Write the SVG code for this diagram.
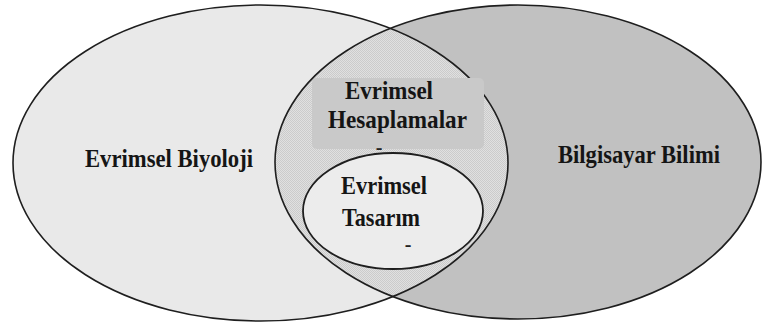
<svg xmlns="http://www.w3.org/2000/svg" width="763" height="329" viewBox="0 0 763 329">
<style>
.outline{stroke:#1e1e1e;stroke-width:1.6;fill:none}
text{font-family:'Liberation Serif','Times New Roman',serif;font-weight:bold}
.lbl{font-size:26px;fill:#151515;text-anchor:middle}
.dash{font-size:20px;fill:#222;text-anchor:middle}
</style>
<defs>
<pattern id="dots" width="2" height="2" patternUnits="userSpaceOnUse">
<rect width="2" height="2" fill="#e0e0e0"/>
<rect width="1" height="1" fill="#cbcbcb"/>
<rect x="1" y="1" width="1" height="1" fill="#cbcbcb"/>
</pattern>
<clipPath id="leftClip"><ellipse cx="260.5" cy="163" rx="247.5" ry="158"/></clipPath>
</defs>
<rect width="763" height="329" fill="#ffffff"/>
<g id="evrimsel-biyoloji">
<ellipse cx="260.5" cy="163" rx="247.5" ry="158" fill="#e9e9e9"/>
</g>
<g id="bilgisayar-bilimi">
<ellipse cx="518" cy="162" rx="243" ry="157" fill="#c1c1c1"/>
</g>
<g id="evrimsel-hesaplamalar">
<ellipse cx="518" cy="162" rx="243" ry="157" fill="url(#dots)" clip-path="url(#leftClip)"/>
</g>
<g id="outlines">
<ellipse class="outline" cx="260.5" cy="163" rx="247.5" ry="158"/>
<ellipse class="outline" cx="518" cy="162" rx="243" ry="157"/>
</g>
<g id="hesaplamalar-box">
<rect x="312" y="78" width="172" height="71" rx="5" fill="#c9c9c9"/>
<text class="lbl" x="389" y="99" textLength="88" lengthAdjust="spacingAndGlyphs">Evrimsel</text>
<text class="lbl" x="397.5" y="128" textLength="139" lengthAdjust="spacingAndGlyphs">Hesaplamalar</text>
<text class="dash" x="379" y="154">-</text>
</g>
<g id="evrimsel-tasarim">
<ellipse cx="393" cy="211" rx="90" ry="58" fill="#ececec" stroke="#1e1e1e" stroke-width="1.8"/>
<text class="lbl" x="384" y="194" textLength="86" lengthAdjust="spacingAndGlyphs">Evrimsel</text>
<text class="lbl" x="381" y="226" textLength="78" lengthAdjust="spacingAndGlyphs">Tasarım</text>
<text class="dash" x="408" y="251">-</text>
</g>
<g id="labels">
<text class="lbl" x="169" y="167" textLength="168" lengthAdjust="spacingAndGlyphs">Evrimsel Biyoloji</text>
<text class="lbl" x="639" y="163" textLength="162" lengthAdjust="spacingAndGlyphs">Bilgisayar Bilimi</text>
</g>
<g id="connectors"/>
</svg>
